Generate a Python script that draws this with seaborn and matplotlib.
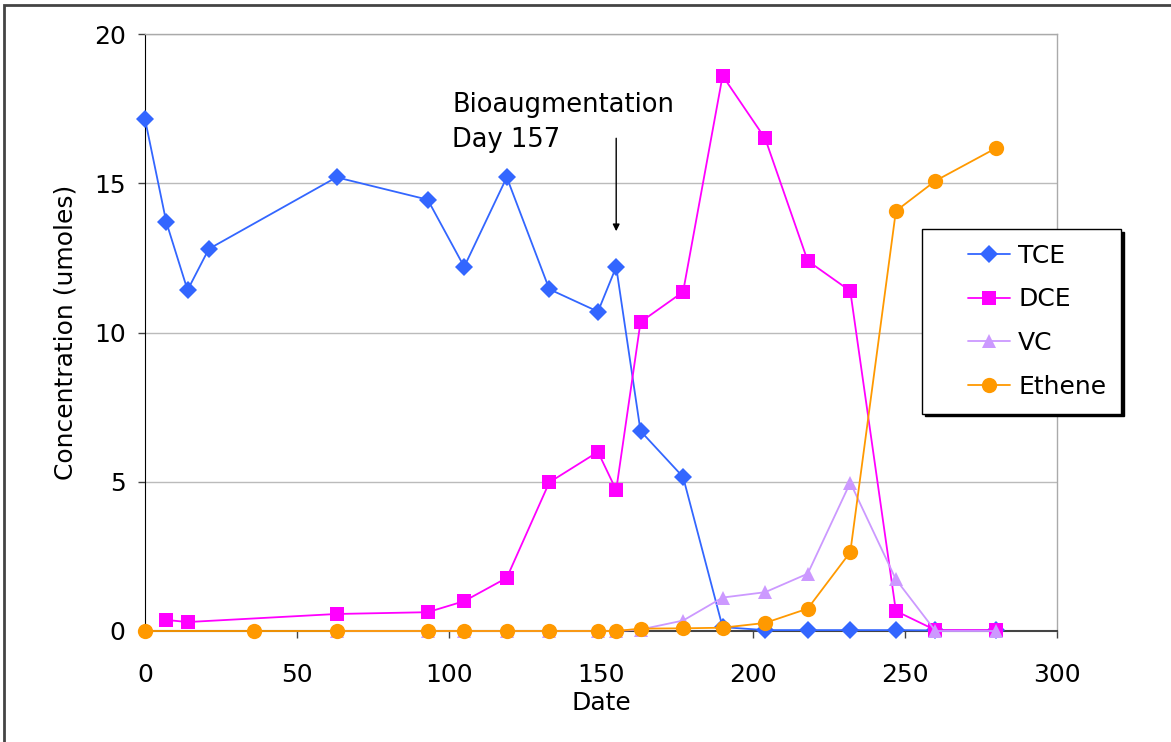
import pandas as pd
import seaborn as sns
import matplotlib.pyplot as plt
from matplotlib.patches import Rectangle
from matplotlib.lines import Line2D
from matplotlib.legend_handler import HandlerLine2D

# day numbers and concentrations (umoles)
tce_days = [0, 7, 14, 21, 63, 93, 105, 119, 133, 149, 155, 163, 177, 190, 204, 218, 232, 247, 260, 280]
tce = [17.15, 13.7, 11.42, 12.8, 15.2, 14.45, 12.2, 15.2, 11.45, 10.7, 12.2, 6.7, 5.16, 0.13, 0.03, 0.03, 0.03, 0.03, 0.02, 0.02]

dce_days = [7, 14, 63, 93, 105, 119, 133, 149, 155, 163, 177, 190, 204, 218, 232, 247, 260, 280]
dce = [0.37, 0.3, 0.57, 0.63, 1.0, 1.78, 4.98, 6.0, 4.72, 10.35, 11.36, 18.6, 16.5, 12.4, 11.39, 0.67, 0.03, 0.03]

vc_days = [63, 93, 105, 119, 133, 149, 155, 163, 177, 190, 204, 218, 232, 247, 260, 280]
vc = [0.0, 0.0, 0.0, 0.0, 0.0, 0.0, 0.0, 0.05, 0.35, 1.12, 1.3, 1.92, 4.97, 1.73, 0.0, 0.0]

eth_days = [0, 36, 63, 93, 105, 119, 133, 149, 155, 163, 177, 190, 204, 218, 232, 247, 260, 280]
ethene = [0.0, 0.0, 0.0, 0.0, 0.0, 0.0, 0.0, 0.0, 0.0, 0.08, 0.09, 0.11, 0.27, 0.75, 2.64, 14.07, 15.08, 16.18]

frames = [
    pd.DataFrame({'Date': tce_days, 'Conc': tce, 'Compound': 'TCE'}),
    pd.DataFrame({'Date': dce_days, 'Conc': dce, 'Compound': 'DCE'}),
    pd.DataFrame({'Date': vc_days, 'Conc': vc, 'Compound': 'VC'}),
    pd.DataFrame({'Date': eth_days, 'Conc': ethene, 'Compound': 'Ethene'}),
]
data = pd.concat(frames, ignore_index=True)

colors = {'TCE': '#3366FF', 'DCE': '#FF00FF', 'VC': '#CC99FF', 'Ethene': '#FF9900'}
markers = {'TCE': 'D', 'DCE': 's', 'VC': '^', 'Ethene': 'o'}
sizes = {'TCE': 9, 'DCE': 10.5, 'VC': 10, 'Ethene': 11}
order = ['TCE', 'DCE', 'VC', 'Ethene']  # excel series order, last one on top

sns.set_style('white')
plt.rcParams['font.family'] = ['DejaVu Sans']
plt.rcParams['text.color'] = 'black'
plt.rcParams['axes.labelcolor'] = 'black'
plt.rcParams['xtick.color'] = 'black'
plt.rcParams['ytick.color'] = 'black'

fig = plt.figure(figsize=(11.71, 7.42), dpi=100)
ax = fig.add_axes([145 / 1171, 1 - 631 / 742, (1057 - 145) / 1171, (631 - 34) / 742])

for i, name in enumerate(order):
    sub = data[data['Compound'] == name]
    sns.lineplot(data=sub, x='Date', y='Conc', ax=ax, color=colors[name], marker=markers[name],
                 markersize=sizes[name], markeredgewidth=0, linewidth=1.3, label=name,
                 sort=False, estimator=None, clip_on=False, zorder=3 + i)

ax.set_xlim(0, 300)
ax.set_ylim(0, 20)
ax.set_xticks(range(0, 301, 50))
ax.set_yticks(range(0, 21, 5))
ax.yaxis.grid(True, color='#BBBBBB', linewidth=1)
ax.set_axisbelow(True)
for side in ['top', 'right']:
    ax.spines[side].set_color('#AAAAAA')
    ax.spines[side].set_linewidth(1)
ax.spines['left'].set_color('black')
ax.spines['bottom'].set_color('#444444')
ax.spines['bottom'].set_linewidth(1.5)
ax.tick_params(axis='both', direction='out', length=5, width=1, color='#444444',
               labelsize=18, labelcolor='black', bottom=True, left=True)
ax.tick_params(axis='x', pad=18)
ax.tick_params(axis='y', pad=9)
ax.set_xlabel('Date', fontsize=18, labelpad=3)
ax.set_ylabel('Concentration (umoles)', fontsize=18, labelpad=12)

ax.annotate('Bioaugmentation\nDay 157', xy=(101, 18.05), fontsize=18.5, ha='left', va='top',
            linespacing=1.45)
ax.annotate('', xy=(155, 13.3), xytext=(155, 16.6),
            arrowprops=dict(arrowstyle='-|>', color='black', lw=1, mutation_scale=10))

handles, labels = ax.get_legend_handles_labels()
lookup = dict(zip(labels, handles))
leg = ax.legend([lookup[n] for n in order], order, loc='upper left',
                bbox_to_anchor=(922 / 1171, 1 - 229 / 742), bbox_transform=fig.transFigure,
                fontsize=18, frameon=True, fancybox=False, shadow={'color': 'black', 'alpha': 1},
                borderpad=0.6, labelspacing=0.78, handlelength=2.9, handletextpad=0.35,
                borderaxespad=0, handler_map={Line2D: HandlerLine2D(xpad=1.25)})
leg.get_frame().set_edgecolor('black')
leg.get_frame().set_linewidth(1)
leg.get_frame().set_alpha(1)

# outer chart border (cut off on right and bottom)
fig.patches.append(Rectangle((4 / 1171, -0.1), 1.2, 1 - 5 / 742 + 0.1, transform=fig.transFigure,
                             fill=False, edgecolor='#444444', linewidth=2))

fig.savefig('out.png', dpi=100)
